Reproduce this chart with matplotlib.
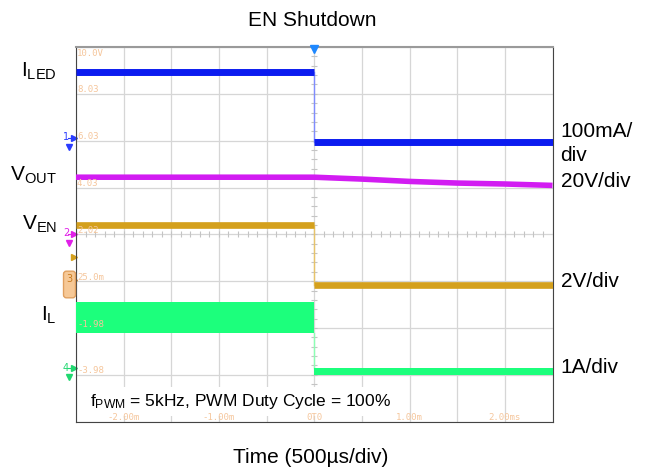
import matplotlib.pyplot as plt
import numpy as np

plt.rcParams['font.family'] = ['Liberation Sans', 'DejaVu Sans']
plt.rcParams['mathtext.fontset'] = 'custom'
plt.rcParams['mathtext.rm'] = 'Liberation Sans'
plt.rcParams['mathtext.it'] = 'Liberation Sans'

W, H = 651, 471

# time in ms, segment edges: before / after EN is pulled low
seg_t = [-2.5, 0.0, 2.5]

iled_ma = [147, -2]        # ch1, 100 mA/div
ven_v = [2.38, -0.15]      # ch3, 2 V/div
il_lo_a = [0.75, -0.15]    # ch4, 1 A/div (switching band)
il_hi_a = [1.41, 0.0]

vout_t = [-2.5, 0.0, 0.5, 1.0, 1.5, 2.0, 2.5]
vout_v = [24.4, 24.4, 23.6, 22.6, 21.9, 21.5, 20.9]   # ch2, 20 V/div

grid_labels = ['10.0V', '8.03', '6.03', '4.03', '2.02', '25.0m', '-1.98', '-3.98']
time_ticks = [-2.0, -1.0, 0.0, 1.0, 2.0]
time_labels = ['-2.00m', '-1.00m', '0T0', '1.00m', '2.00ms']

# scope channel settings: (units per div, reference level in div)
CH1 = (100.0, 6.0)
CH2 = (20.0, 4.0)
CH3 = (2.0, 3.0)
CH4 = (1.0, 1.15)

BLUE = '#0c1cf0'
MAGENTA = '#d21cf2'
GOLD = '#d4a01c'
GREEN = '#1cff7c'
LBL = '#f5c69c'


def to_div(vals, ch):
    scale, ref = ch
    return ref + np.asarray(vals, dtype=float) / scale


def px(x, y):
    return x / W, 1 - y / H


fig = plt.figure(figsize=(W / 100, H / 100), dpi=100)
ax = fig.add_axes([76 / W, 1 - 421.7 / H, (552.5 - 76) / W, (421.7 - 47) / H])
ax.set_xlim(-2.5, 2.5)
ax.set_ylim(0, 8)
ax.set_xticks(np.arange(-2.5, 2.51, 0.5))
ax.set_yticks(range(9))
ax.grid(color='#d6d6d6', lw=0.9)
ax.set_axisbelow(True)
ax.tick_params(length=0, labelbottom=False, labelleft=False)
for s in ['left', 'bottom', 'right']:
    ax.spines[s].set_color('#444444')
ax.spines['top'].set_color('#9a9a9a')
ax.spines['top'].set_linewidth(1.5)

# small ticks on the centre lines
mt = np.arange(-2.5, 2.51, 0.1)
ax.plot(mt, np.full_like(mt, 4.0), ls='none', marker='|', ms=4, mew=0.8, color='#c4c4c4', zorder=1)
my = np.arange(0, 8.01, 0.2)
ax.plot(np.zeros_like(my), my, ls='none', marker='_', ms=4, mew=0.8, color='#c4c4c4', zorder=1)


def step_trace(vals, ch, color, thin, lw):
    y = to_div(vals, ch)
    ax.plot([seg_t[1], seg_t[1]], [y[0], y[1]], color=thin, lw=1, zorder=3)
    for i in range(2):
        ax.plot(seg_t[i:i + 2], [y[i], y[i]], color=color, lw=lw,
                solid_capstyle='butt', zorder=4)


step_trace(iled_ma, CH1, BLUE, '#7f8cff', 5.0)
step_trace(ven_v, CH3, GOLD, '#e8c46a', 4.8)

ax.plot(vout_t, to_div(vout_v, CH2), color=MAGENTA, lw=4.0, solid_capstyle='butt', zorder=4)

lo = to_div(il_lo_a, CH4)
hi = to_div(il_hi_a, CH4)
ax.plot([0, 0], [lo[0], hi[1]], color='#8cffb4', lw=1, zorder=3)
for i in range(2):
    ax.fill_between(seg_t[i:i + 2], [lo[i]] * 2, [hi[i]] * 2, color=GREEN, lw=0, zorder=4)

# note box inside the screen
ax.text(*px(90, 406), r'f$_\mathrm{PWM}$ = 5kHz, PWM Duty Cycle = 100%', fontsize=12.5,
        ha='left', va='baseline', zorder=5, transform=fig.transFigure,
        bbox=dict(facecolor='white', edgecolor='none', pad=3.5))

# scope graticule readouts
for i, lab in enumerate(grid_labels):
    yv = 8 - i + 0.085 if i > 0 else 7.87
    ax.text(-2.49, yv, lab, fontsize=6.5, family='DejaVu Sans Mono', color=LBL,
            va='center', ha='left', zorder=6)
for t, lab in zip(time_ticks, time_labels):
    ax.text(t, 0.085, lab, fontsize=6.5, family='DejaVu Sans Mono', color=LBL,
            va='center', ha='center', zorder=6)

# trigger marker
ax.plot([0], [7.95], marker='v', ms=5.5, color='#1e88ff', clip_on=False, zorder=7)


# channel markers left of the screen
def chan_mark(num, y, color, gnd=True):
    fig.text(*px(66, y), num, fontsize=7, color=color, ha='center', va='center',
             family='DejaVu Sans')
    ax.plot(*px(74, y), marker='>', ms=4, color=color, transform=fig.transFigure, clip_on=False)
    ax.plot([px(68, y)[0], px(73, y)[0]], [px(68, y)[1]] * 2, color=color, lw=0.8,
            transform=fig.transFigure, clip_on=False)
    if gnd:
        ax.plot(*px(69, y + 9), marker='v', ms=4, color=color, transform=fig.transFigure,
                clip_on=False)


chan_mark('1', 137.5, '#2a3cff')
chan_mark('2', 233.5, '#e020e8')
ax.plot(*px(74, 257), marker='>', ms=5, color=GOLD, transform=fig.transFigure, clip_on=False)
fig.text(*px(69.5, 284.5), '3\n ', fontsize=7, color='#c87a1e', ha='center', va='center',
         family='DejaVu Sans', linespacing=1.1,
         bbox=dict(boxstyle='round,pad=0.3', facecolor='#f6c896', edgecolor='#e0a060'))
ax.plot(*px(69.5, 290), marker='v', ms=4, color='#c87a1e', transform=fig.transFigure,
        clip_on=False)
ax.plot(*px(74, 280), marker='>', ms=4, color='#c87a1e', transform=fig.transFigure,
        clip_on=False)
chan_mark('4', 368, '#20d870')

# titles and annotations
fig.text(*px(312, 26), 'EN Shutdown', fontsize=15, ha='center', va='baseline')
fig.text(*px(311, 463.3), 'Time (500µs/div)', fontsize=15, ha='center', va='baseline')

fig.text(*px(57, 76.7), r'I$_\mathrm{LED}$', fontsize=15, ha='right', va='baseline')
fig.text(*px(57, 180.5), r'V$_\mathrm{OUT}$', fontsize=15, ha='right', va='baseline')
fig.text(*px(57, 229.3), r'V$_\mathrm{EN}$', fontsize=15, ha='right', va='baseline')
fig.text(*px(57, 320.7), r'I$_\mathrm{L}$', fontsize=15, ha='right', va='baseline')

fig.text(*px(560.5, 136.7), '100mA/', fontsize=15, ha='left', va='baseline')
fig.text(*px(560.5, 161), 'div', fontsize=15, ha='left', va='baseline')
fig.text(*px(560.5, 187.3), '20V/div', fontsize=15, ha='left', va='baseline')
fig.text(*px(560.5, 287.3), '2V/div', fontsize=15, ha='left', va='baseline')
fig.text(*px(560.5, 372.7), '1A/div', fontsize=15, ha='left', va='baseline')

fig.savefig('out.png', dpi=100)
